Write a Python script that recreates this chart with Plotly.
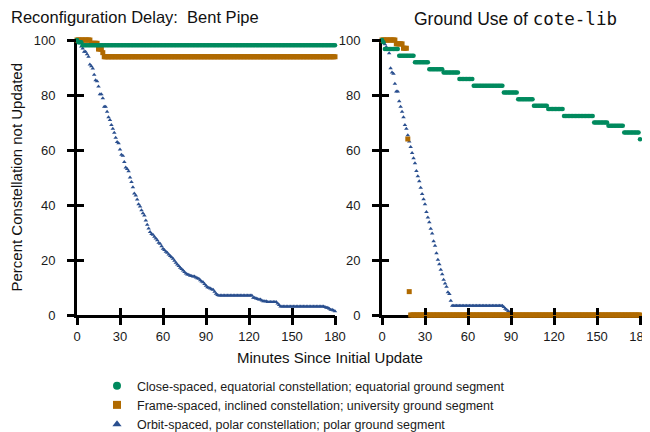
import plotly.graph_objects as go

FONT = "Liberation Sans, Arial, Helvetica, sans-serif"
GREEN = "#008a5e"
ORANGE = "#b06a00"
BLUE = "#2a4f8f"

minutes = list(range(181))
x_ticks = [0, 30, 60, 90, 120, 150, 180]
y_ticks = [0, 20, 40, 60, 80, 100]

legend_names = [
    "Close-spaced, equatorial constellation; equatorial ground segment",
    "Frame-spaced, inclined constellation; university ground segment",
    "Orbit-spaced, polar constellation; polar ground segment",
]
titles = ["Reconfiguration Delay:  Bent Pipe",
          'Ground Use of <span style="font-family:DejaVu Sans Mono">cote-lib</span>']
x_title = "Minutes Since Initial Update"
y_title = "Percent Constellation not Updated"

# Step series: minute at which each level starts, and the level (percent)
green_left_start = [0, 1, 4]
green_left_val = [100, 99.2, 98.1]
orange_left_start = [0, 10, 15, 18, 19]
orange_left_val = [100, 98.8, 96.7, 95.4, 93.9]
green_right_start = [0, 1, 2, 12, 23, 33, 43, 54, 64, 85, 95, 106, 116, 127, 148, 158, 169, 180]
green_right_val = [100, 99.2, 96.7, 94.3, 91.9, 89.4, 88.2, 85.8, 83.4, 80.9, 78.5, 76.1,
                   74.9, 72.4, 70.0, 68.8, 66.4, 63.9]
orange_right_start = [0, 10, 15, 18, 19, 20]
orange_right_val = [100, 98.6, 97.0, 64.0, 8.5, 0]

# Per-minute values for the orbit-spaced series
blue_left = [
    100, 99.4, 98.8, 97.6, 96.9, 95.7, 95.7, 94.8, 93.9, 91.1,
    90.5, 89.6, 87.4, 85.4, 85.0, 83.1, 80.3, 80.3, 78.8, 75.7,
    75.7, 73.9, 71.9, 70.9, 69.1, 67.7, 66.3, 64.5, 62.9, 62.5,
    60.2, 58.3, 57.9, 55.6, 53.6, 53.1, 52.3, 50.0, 48.4, 46.5,
    44.2, 43.5, 42.0, 40.3, 39.5, 38.1, 37.0, 36.2, 34.4, 32.8,
    31.5, 30.2, 29.5, 29.2, 28.5, 27.8, 27.2, 26.3, 25.9, 25.0,
    24.1, 23.6, 23.0, 22.6, 22.0, 21.5, 21.0, 20.5, 19.7, 19.0,
    18.4, 17.8, 17.2, 16.7, 16.2, 15.6, 15.1, 14.7, 14.6, 14.3,
    14.2, 14.0, 14.0, 13.6, 13.4, 13.2, 12.6, 12.2, 11.9, 11.3,
    10.6, 10.1, 9.9, 9.6, 9.4, 9.2, 8.5, 7.7, 7.3, 7.1,
    7.1, 7.1, 7.1, 7.1, 7.1, 7.1, 7.1, 7.1, 7.1, 7.1,
    7.1, 7.1, 7.1, 7.1, 7.1, 7.1, 7.1, 7.1, 7.1, 7.1,
    7.1, 7.1, 7.1, 6.3, 6.3, 6.0, 5.8, 5.6, 5.6, 5.3,
    5.0, 5.0, 5.0, 4.7, 4.7, 4.7, 4.7, 4.7, 4.7, 4.7,
    4.2, 3.6, 3.1, 3.1, 3.1, 3.1, 3.1, 3.1, 3.1, 3.1,
    3.1, 3.1, 3.1, 3.1, 3.1, 3.1, 3.1, 3.1, 3.1, 3.1,
    3.1, 3.1, 3.1, 3.1, 3.1, 3.1, 3.1, 3.1, 3.1, 3.1,
    3.1, 3.1, 3.1, 2.9, 2.6, 2.6, 2.3, 1.9, 1.9, 1.6,
    1.4,
]
blue_right = [
    100, 99.5, 98.5, 97.5, 96.5, 95.2, 89.7, 88.2, 87.7, 84.1,
    81.3, 81.3, 77.7, 75.7, 73.9, 71.9, 69.1, 67.7, 65.4, 63.1,
    61.1, 58.9, 57.0, 55.2, 52.4, 50.5, 48.6, 46.3, 44.0, 42.1,
    40.3, 37.5, 35.5, 33.7, 31.4, 29.6, 26.8, 25.2, 22.5, 20.1,
    18.5, 16.5, 14.8, 12.8, 11.5, 10.3, 8.3, 7.6, 5.2, 3.4,
    3.4, 3.4, 3.4, 3.4, 3.4, 3.4, 3.4, 3.4, 3.4, 3.4,
    3.4, 3.4, 3.4, 3.4, 3.4, 3.4, 3.4, 3.4, 3.4, 3.4,
    3.4, 3.4, 3.4, 3.4, 3.4, 3.4, 3.4, 3.4, 3.4, 3.4,
    3.4, 3.4, 3.4, 3.4, 3.4, 2.9, 2.3, 1.9, 1.4, 1.0,
    0.5, 0, 0, 0, 0, 0, 0, 0, 0, 0,
    0, 0, 0, 0, 0, 0, 0, 0, 0, 0,
    0, 0, 0, 0, 0, 0, 0, 0, 0, 0,
    0, 0, 0, 0, 0, 0, 0, 0, 0, 0,
    0, 0, 0, 0, 0, 0, 0, 0, 0, 0,
    0, 0, 0, 0, 0, 0, 0, 0, 0, 0,
    0, 0, 0, 0, 0, 0, 0, 0, 0, 0,
    0, 0, 0, 0, 0, 0, 0, 0, 0, 0,
    0, 0, 0, 0, 0, 0, 0, 0, 0, 0,
    0,
]


def expand(starts, vals):
    out = []
    for m in minutes:
        idx = max(k for k, s in enumerate(starts) if s <= m)
        out.append(vals[idx])
    return out


fig = go.Figure()

panels = [
    ("x", "y", blue_left, expand(orange_left_start, orange_left_val), expand(green_left_start, green_left_val)),
    ("x2", "y2", blue_right, expand(orange_right_start, orange_right_val), expand(green_right_start, green_right_val)),
]
for xa, ya, b, o, g in panels:
    fig.add_trace(go.Scatter(x=minutes, y=b, mode="markers", xaxis=xa, yaxis=ya, showlegend=False,
                             cliponaxis=False,
                             marker=dict(symbol="triangle-up", size=4, color=BLUE, line=dict(width=0))))
    fig.add_trace(go.Scatter(x=minutes, y=o, mode="markers", xaxis=xa, yaxis=ya, showlegend=False,
                             cliponaxis=False,
                             marker=dict(symbol="square", size=5, color=ORANGE, line=dict(width=0))))
    fig.add_trace(go.Scatter(x=minutes, y=g, mode="markers", xaxis=xa, yaxis=ya, showlegend=False,
                             cliponaxis=False,
                             marker=dict(symbol="circle", size=4.5, color=GREEN, line=dict(width=0))))

# legend entries
for name, sym, col in zip(legend_names, ["circle", "square", "triangle-up"], [GREEN, ORANGE, BLUE]):
    fig.add_trace(go.Scatter(x=[None], y=[None], mode="markers", name=name,
                             marker=dict(symbol=sym, size=8, color=col, line=dict(width=0))))

# dummy traces that carry the tick-overlay axes
for xa, ya in [("x3", "y"), ("x5", "y"), ("x", "y3"), ("x", "y5"),
               ("x4", "y2"), ("x6", "y2"), ("x2", "y4"), ("x2", "y6")]:
    fig.add_trace(go.Scatter(x=[], y=[], xaxis=xa, yaxis=ya, showlegend=False, hoverinfo="skip"))

# the page body adds an 8px offset, so the figure is drawn 8px smaller
FIG_W, FIG_H = 642, 424
W_PLOT = 563.0
H_PLOT = 275.0
dom_left = [0, 258 / W_PLOT]
dom_right = [305 / W_PLOT, 1]
tickfont = dict(family=FONT, size=13, color="#1a1a1a")


def main_x(dom, anchor):
    return dict(domain=dom, anchor=anchor, range=[0, 180], tickvals=x_ticks, showline=True,
                linewidth=3, linecolor="black", ticks="outside", ticklen=7, tickwidth=3,
                tickcolor="black", showgrid=False, zeroline=False, layer="below traces",
                tickfont=tickfont, ticklabelstandoff=0, ticklabeloverflow="allow",
                fixedrange=True, automargin=False)


def main_y(anchor):
    return dict(domain=[0, 1], anchor=anchor, range=[0, 100], tickvals=y_ticks, showline=True,
                linewidth=3, linecolor="black", ticks="outside", ticklen=7, tickwidth=3,
                tickcolor="black", showgrid=False, zeroline=False, layer="below traces",
                tickfont=tickfont, ticklabelstandoff=9, ticklabeloverflow="allow",
                fixedrange=True, automargin=False)


def over(base, anchor, rng, vals, side):
    return dict(overlaying=base, anchor=anchor, range=rng, tickvals=vals, showline=False,
                ticks=side, ticklen=7, tickwidth=3, tickcolor="black", showticklabels=False,
                showgrid=False, zeroline=False, layer="above traces", fixedrange=True,
                automargin=False)


fig.update_layout(
    width=FIG_W, height=FIG_H,
    margin=dict(l=69, r=10, t=32, b=117, autoexpand=False),
    paper_bgcolor="white", plot_bgcolor="white",
    font=dict(family=FONT, color="#1a1a1a"),
    xaxis=main_x(dom_left, "y"),
    yaxis=main_y("x"),
    xaxis2=main_x(dom_right, "y2"),
    yaxis2=main_y("x2"),
    xaxis3=over("x", "y", [0, 180], x_ticks, "outside"),
    xaxis5=over("x", "y", [0, 180], x_ticks, "inside"),
    yaxis3=over("y", "x", [0, 100], y_ticks, "outside"),
    yaxis5=over("y", "x", [0, 100], y_ticks, "inside"),
    xaxis4=over("x2", "y2", [0, 180], x_ticks, "outside"),
    xaxis6=over("x2", "y2", [0, 180], x_ticks, "inside"),
    yaxis4=over("y2", "x2", [0, 100], y_ticks, "outside"),
    yaxis6=over("y2", "x2", [0, 100], y_ticks, "inside"),
    showlegend=True,
    legend=dict(x=89 / FIG_W, y=1 - 363 / FIG_H, xref="container", yref="container",
                xanchor="left", yanchor="top",
                font=dict(family=FONT, size=12.5, color="#1a1a1a"), bgcolor="rgba(0,0,0,0)",
                itemwidth=30, tracegroupgap=0),
    annotations=[
        dict(text=titles[0], x=(135 - 77) / W_PLOT, y=(315 - 17) / H_PLOT, xref="paper", yref="paper",
             xanchor="center", yanchor="middle", showarrow=False, font=dict(family=FONT, size=16.5, color="#111")),
        dict(text=titles[1], x=(515 - 77) / W_PLOT, y=(315 - 19) / H_PLOT, xref="paper", yref="paper",
             xanchor="center", yanchor="middle", showarrow=False, font=dict(family=FONT, size=17.5, color="#111")),
        dict(text=x_title, x=(330 - 77) / W_PLOT, y=(315 - 357) / H_PLOT, xref="paper", yref="paper",
             xanchor="center", yanchor="middle", showarrow=False, font=dict(family=FONT, size=15, color="#111")),
        dict(text=y_title, x=(16 - 77) / W_PLOT, y=0.5, xref="paper", yref="paper", textangle=-90,
             xanchor="center", yanchor="middle", showarrow=False, font=dict(family=FONT, size=15, color="#111")),
    ],
)

fig.write_html("out.html")
